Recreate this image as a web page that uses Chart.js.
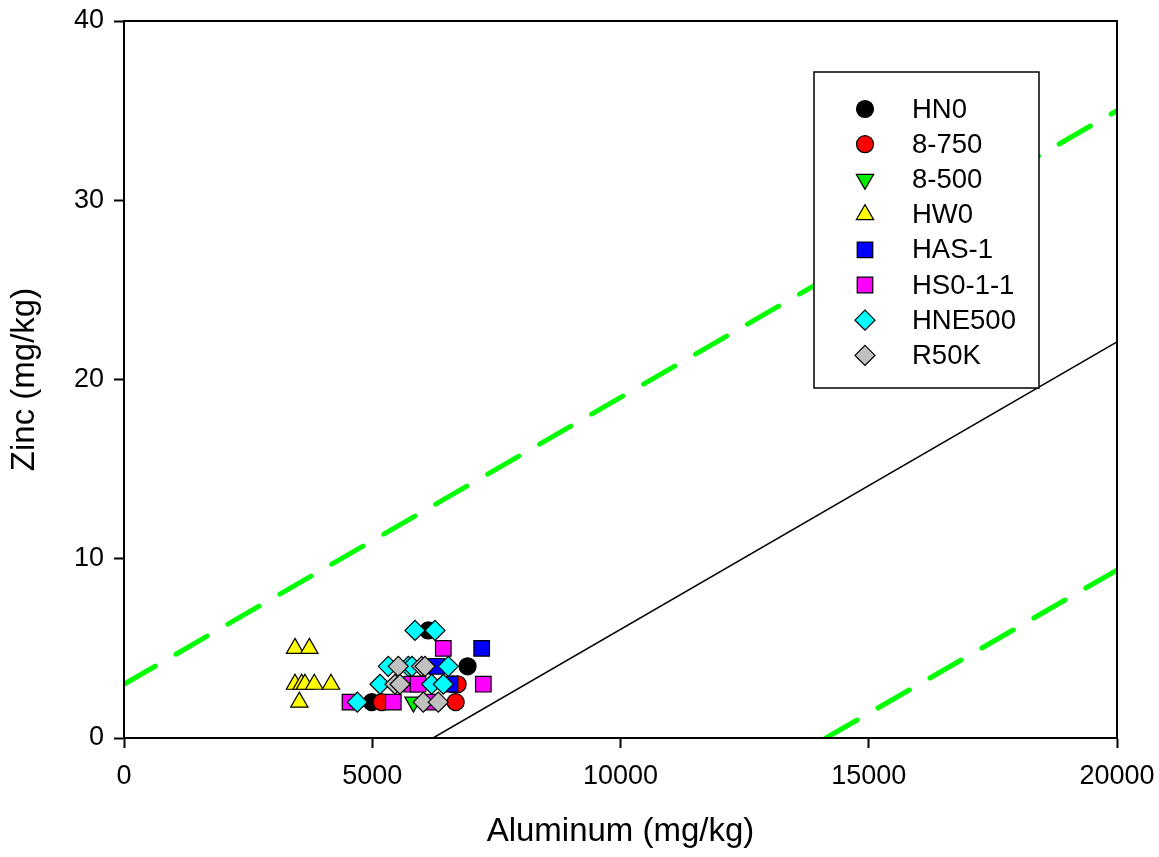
<!DOCTYPE html>
<html>
<head>
<meta charset="utf-8">
<title>Zinc vs Aluminum</title>
<script src="https://cdn.jsdelivr.net/npm/chart.js@4.4.1/dist/chart.umd.min.js"></script>
<style>
  html, body { margin: 0; padding: 0; background: #ffffff; }
  canvas { display: block; }
</style>
</head>
<body>
<canvas id="chart" width="1159" height="857"></canvas>
<script>
// Sample groups: [aluminum mg/kg, zinc mg/kg]
const seriesNames = ['HN0', '8-750', '8-500', 'HW0', 'HAS-1', 'HS0-1-1', 'HNE500', 'R50K'];
const hn0     = [[4990, 2], [6129, 6], [6920, 4], [6620, 3]];
const s8_750  = [[5190, 2], [6680, 2], [6720, 3]];
const s8_500  = [[5830, 2]];
const hw0     = [[3444, 5], [3733, 5], [3444, 3], [3578, 3], [3645, 3], [3833, 3], [4169, 3], [3531, 2]];
const has1    = [[7204, 5], [6297, 4], [6566, 3]];
const hs011   = [[6431, 5], [7237, 3], [5795, 3], [5922, 3], [4552, 2], [5424, 2], [6163, 2]];
const hne500  = [[5861, 6], [6264, 6], [5323, 4], [5727, 4], [5800, 4], [6532, 4], [5156, 3], [6197, 3], [6431, 3], [4699, 2]];
const r50k    = [[5525, 4], [5994, 4], [6062, 4], [5458, 3], [5559, 3], [6028, 2], [6330, 2]];

// Reference lines, given by their end points [aluminum, zinc]
const upperBound = [[0, 3], [20000, 35]];
const trendLine  = [[6224, 0], [20000, 22.1]];
const lowerBound = [[14139, 0], [20000, 9.37]];

// Axis ranges and tick steps
const xRange = [0, 20000], xStep = 5000;
const yRange = [0, 40], yStep = 10;

const FONT = "Arial, 'Liberation Sans', Helvetica, sans-serif";
const toXY = arr => arr.map(p => ({ x: p[0], y: p[1] }));

const markerStyles = [
  { pointStyle: 'circle',   rotation: 0,   color: '#000000', radius: 8.5 },
  { pointStyle: 'circle',   rotation: 0,   color: '#ff0000', radius: 8.5 },
  { pointStyle: 'triangle', rotation: 180, color: '#00ee00', radius: 10 },
  { pointStyle: 'triangle', rotation: 0,   color: '#ffff00', radius: 10 },
  { pointStyle: 'rect',     rotation: 0,   color: '#0000ff', radius: 11 },
  { pointStyle: 'rect',     rotation: 0,   color: '#ff00ff', radius: 11 },
  { pointStyle: 'rectRot',  rotation: 0,   color: '#00ffff', radius: 10 },
  { pointStyle: 'rectRot',  rotation: 0,   color: '#c0c0c0', radius: 10 }
];
const seriesData = [hn0, s8_750, s8_500, hw0, has1, hs011, hne500, r50k];

const scatterSets = seriesNames.map((name, i) => ({
  type: 'scatter',
  label: name,
  data: toXY(seriesData[i]),
  pointStyle: markerStyles[i].pointStyle,
  rotation: markerStyles[i].rotation,
  radius: markerStyles[i].radius,
  pointRadius: markerStyles[i].radius,
  pointHoverRadius: markerStyles[i].radius,
  backgroundColor: markerStyles[i].color,
  borderColor: '#000000',
  borderWidth: 1.2,
  order: seriesNames.length - i   // later groups drawn on top
}));

const lineSet = (pts, color, width, dash) => ({
  type: 'line',
  label: '',
  data: toXY(pts),
  borderColor: color,
  borderWidth: width,
  borderDash: dash,
  borderCapStyle: dash.length ? 'round' : 'butt',
  pointRadius: 0,
  fill: false,
  tension: 0,
  order: 100
});

const datasets = [
  lineSet(upperBound, '#00ff00', 5, [36, 24]),
  lineSet(lowerBound, '#00ff00', 5, [36, 24]),
  lineSet(trendLine, '#000000', 1.5, []),
  ...scatterSets
];

// Frame around the plot area plus the boxed legend
const frameAndLegend = {
  id: 'frameAndLegend',
  afterDraw(chart) {
    const { ctx, chartArea: a } = chart;
    ctx.save();
    ctx.strokeStyle = '#000000';
    ctx.lineWidth = 2;
    ctx.strokeRect(a.left, a.top, a.right - a.left, a.bottom - a.top);

    const box = { x: a.left + 690, y: a.top + 51, w: 225, h: 316 };
    ctx.fillStyle = '#ffffff';
    ctx.fillRect(box.x, box.y, box.w, box.h);
    ctx.lineWidth = 1.5;
    ctx.strokeRect(box.x, box.y, box.w, box.h);

    ctx.font = '27.5px ' + FONT;
    ctx.textBaseline = 'middle';
    ctx.textAlign = 'left';
    seriesNames.forEach((name, i) => {
      const cy = box.y + 37 + i * 35.2;
      const mx = box.x + 51;
      const st = markerStyles[i];
      ctx.fillStyle = st.color;
      ctx.strokeStyle = '#000000';
      ctx.lineWidth = 1.2;
      Chart.helpers.drawPoint(ctx, {
        pointStyle: st.pointStyle, rotation: st.rotation,
        radius: st.radius, borderWidth: 1.2
      }, mx, cy);
      ctx.fillStyle = '#000000';
      ctx.fillText(name, box.x + 98, cy + 1);
    });
    ctx.restore();
  }
};

new Chart(document.getElementById('chart'), {
  data: { datasets },
  options: {
    responsive: false,
    animation: false,
    events: [],
    layout: { padding: { top: 21, right: 42, left: 0, bottom: 0 } },
    plugins: { legend: { display: false }, tooltip: { enabled: false } },
    scales: {
      x: {
        type: 'linear',
        position: 'bottom',
        min: xRange[0], max: xRange[1],
        afterFit: s => { s.height = 119; s.paddingLeft = 0; s.paddingRight = 0; },
        ticks: {
          stepSize: xStep,
          color: '#000000',
          font: { family: FONT, size: 27 },
          padding: 12,
          maxRotation: 0,
          callback: v => String(v)
        },
        grid: {
          drawOnChartArea: false, drawTicks: true,
          tickLength: 10, tickWidth: 2, tickColor: '#000000'
        },
        border: { display: true, color: '#000000', width: 2 },
        title: {
          display: true, text: 'Aluminum (mg/kg)', color: '#000000',
          font: { family: FONT, size: 33 }, padding: { top: 5, bottom: 5 }
        }
      },
      y: {
        type: 'linear',
        position: 'left',
        min: yRange[0], max: yRange[1],
        afterFit: s => { s.width = 124; s.paddingTop = 0; s.paddingBottom = 0; },
        ticks: {
          stepSize: yStep,
          color: '#000000',
          font: { family: FONT, size: 27 },
          padding: 10,
          callback: v => String(v)
        },
        grid: {
          drawOnChartArea: false, drawTicks: true,
          tickLength: 10, tickWidth: 2, tickColor: '#000000'
        },
        border: { display: true, color: '#000000', width: 2 },
        title: {
          display: true, text: 'Zinc (mg/kg)', color: '#000000',
          font: { family: FONT, size: 33 }, padding: { top: 5, bottom: 5 }
        }
      }
    }
  },
  plugins: [frameAndLegend]
});
</script>
</body>
</html>
